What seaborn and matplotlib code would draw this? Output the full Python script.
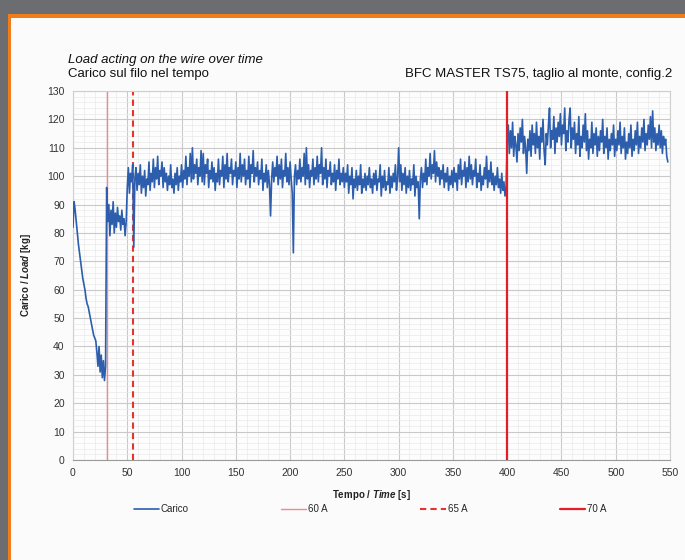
import numpy as np
import matplotlib
matplotlib.use('Agg')
import matplotlib.pyplot as plt
import seaborn as sns
from matplotlib.patches import Rectangle
from matplotlib.ticker import MultipleLocator

# carico [kg], one reading per second from t = 0 s
carico = [
    82, 91, 88, 84, 80, 76, 73, 70, 67, 64,
    62, 60, 57, 55, 54, 52, 50, 48, 46, 44,
    43, 42, 38, 33, 40, 31, 37, 29, 35, 28,
    33, 96, 84, 90, 79, 88, 83, 91, 80, 87,
    82, 89, 84, 86, 81, 88, 83, 85, 79, 84,
    96, 103, 94, 101, 98, 104, 75, 99, 103, 95,
    101, 97, 104, 94, 100, 96, 102, 93, 99, 97,
    105, 95, 101, 98, 106, 96, 103, 99, 107, 97,
    102, 100, 105, 96, 103, 98, 101, 95, 100, 97,
    104, 96, 99, 94, 101, 97, 103, 95, 100, 98,
    104, 96, 102, 99, 107, 97, 103, 100, 108, 98,
    110, 99, 104, 101, 106, 97, 103, 100, 109, 98,
    108, 97, 104, 101, 106, 96, 102, 99, 105, 98,
    103, 95, 101, 98, 106, 97, 102, 100, 107, 96,
    104, 99, 108, 98, 103, 101, 106, 97, 102, 100,
    105, 96, 103, 99, 108, 98, 104, 100, 106, 97,
    102, 99, 107, 96, 104, 101, 109, 98, 103, 100,
    105, 97, 102, 99, 106, 95, 101, 98, 104, 96,
    102, 97, 86, 99, 105, 98, 103, 100, 107, 97,
    104, 99, 106, 96, 102, 100, 108, 98, 103, 97,
    105, 99, 94, 73, 100, 104, 97, 102, 99, 106,
    98, 103, 100, 108, 97, 110, 99, 104, 96, 102,
    100, 106, 97, 103, 99, 107, 98, 104, 101, 110,
    97, 103, 99, 106, 96, 102, 100, 105, 97, 101,
    98, 104, 95, 102, 99, 106, 97, 101, 98, 103,
    96, 101, 98, 104, 94, 100, 97, 103, 92, 99,
    96, 102, 95, 100, 97, 104, 94, 99, 96, 101,
    95, 100, 97, 103, 96, 99, 94, 101, 97, 102,
    95, 99, 98, 104, 93, 100, 96, 102, 95, 98,
    97, 103, 94, 100, 96, 101, 98, 104, 95, 99,
    110, 98, 104, 95, 101, 97, 103, 94, 100, 96,
    102, 95, 99, 97, 104, 93, 100, 96, 98, 85,
    99, 103, 96, 101, 98, 106, 97, 103, 100, 108,
    99, 104, 101, 109, 98, 105, 100, 103, 97, 102,
    99, 104, 96, 101, 98, 103, 95, 100, 97, 102,
    96, 103, 98, 101, 95, 104, 99, 106, 97, 102,
    100, 105, 96, 103, 98, 107, 99, 104, 97, 102,
    100, 106, 96, 101, 98, 104, 95, 100, 97, 103,
    99, 107, 96, 102, 98, 105, 97, 101, 95, 100,
    97, 103, 96, 99, 94, 101, 95, 98, 93, 96,
    112, 118, 108, 116, 110, 119, 107, 114, 111, 105,
    115, 109, 117, 112, 120, 108, 114, 110, 101, 113,
    109, 116, 107, 118, 111, 115, 108, 119, 110, 114,
    106, 117, 112, 120, 109, 104, 115, 111, 118, 124,
    110, 116, 113, 121, 108, 117, 112, 119, 114, 122,
    111, 118, 115, 124, 109, 116, 112, 120, 124, 110,
    117, 113, 119, 108, 115, 111, 121, 107, 114, 110,
    118, 112, 122, 109, 116, 106, 113, 110, 119, 108,
    115, 111, 117, 107, 114, 109, 116, 112, 120, 108,
    114, 110, 117, 106, 113, 109, 115, 111, 118, 107,
    113, 109, 116, 111, 119, 108, 114, 110, 117, 106,
    112, 108, 115, 110, 118, 107, 113, 109, 116, 111,
    119, 108, 114, 110, 117, 112, 120, 109, 115, 111,
    118, 113, 121, 110, 123, 112, 117, 109, 115, 111,
    118, 110, 116, 108, 114, 111, 113, 107, 105,
]
tempo = np.arange(len(carico))

# current changes [s]
t_60A = 31
t_65A = 55
t_70A = 400

sns.set_theme(style='whitegrid')
plt.rcParams['font.family'] = ['Liberation Sans', 'DejaVu Sans']
plt.rcParams['mathtext.fontset'] = 'custom'
plt.rcParams['mathtext.it'] = 'Liberation Sans:italic:bold'
plt.rcParams['mathtext.rm'] = 'Liberation Sans:bold'

fig = plt.figure(figsize=(6.85, 5.6), dpi=100)
fig.patch.set_facecolor('#6b6d70')
fig.add_artist(Rectangle((8 / 685, 0), 1, (560 - 14) / 560, transform=fig.transFigure,
                         facecolor='#f07d1a', edgecolor='none', zorder=-2))
fig.add_artist(Rectangle((11 / 685, 0), 1, (560 - 18) / 560, transform=fig.transFigure,
                         facecolor='#fbfbfb', edgecolor='none', zorder=-1))

ax = fig.add_axes([73 / 685, 100 / 560, 597 / 685, 369 / 560])
ax.set_facecolor('#fdfdfd')

sns.lineplot(x=tempo, y=carico, ax=ax, color='#2c5ead', linewidth=1.2,
             estimator=None, label='Carico', zorder=3)
ax.axvline(t_60A, color='#f08a8a', linewidth=1.0, label='60 A', zorder=2)
ax.axvline(t_65A, color='#e2352b', linewidth=1.5, linestyle=(0, (3, 2)), label='65 A', zorder=2)
ax.axvline(t_70A, color='#e41e26', linewidth=1.6, label='70 A', zorder=4)

ax.set_xlim(0, 550)
ax.set_ylim(0, 130)
ax.xaxis.set_major_locator(MultipleLocator(50))
ax.xaxis.set_minor_locator(MultipleLocator(10))
ax.yaxis.set_major_locator(MultipleLocator(10))
ax.yaxis.set_minor_locator(MultipleLocator(2))
ax.grid(which='major', color='#c9c9c9', linewidth=0.8)
ax.grid(which='minor', color='#e9e9e9', linewidth=0.5)
ax.tick_params(which='both', length=0, labelsize=7.5, colors='#333333', pad=6)
for s in ax.spines.values():
    s.set_color('#cfcfcf')
    s.set_linewidth(0.8)
ax.spines['bottom'].set_color('#9a9a9a')

ax.set_xlabel(r'Tempo / $\mathit{Time}$ [s]', fontsize=7, fontweight='bold', labelpad=7, color='#222222')
ax.set_ylabel(r'Carico / $\mathit{Load}$ [kg]', fontsize=7, fontweight='bold', labelpad=10, color='#222222')

fig.text(68 / 685, 1 - 60 / 560, 'Load acting on the wire over time', fontsize=9.5,
         style='italic', va='center', ha='left', color='#111111')
fig.text(68 / 685, 1 - 74 / 560, 'Carico sul filo nel tempo', fontsize=9.5,
         va='center', ha='left', color='#111111')
fig.text(672 / 685, 1 - 74 / 560, 'BFC MASTER TS75, taglio al monte, config.2', fontsize=9.5,
         va='center', ha='right', color='#111111')

ax.get_legend().remove()
h, l = ax.get_legend_handles_labels()
fig.legend(h, l, loc='center', bbox_to_anchor=(370 / 685, 1 - 509 / 560), ncol=4,
           frameon=False, fontsize=7, handlelength=2.6, columnspacing=9.5, handletextpad=0.2)

fig.savefig('out.png', dpi=100, facecolor=fig.get_facecolor())
